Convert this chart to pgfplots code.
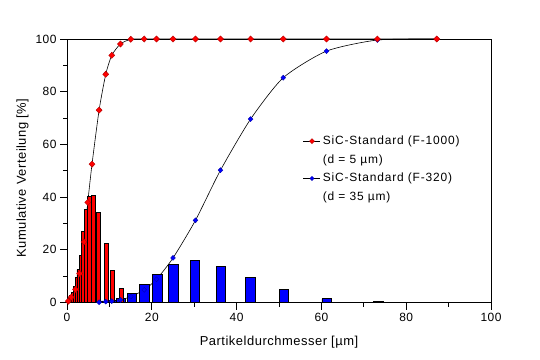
\documentclass[border=0pt]{standalone}
\usepackage{pgfplots}
\pgfplotsset{compat=1.18}
\usepackage{fontspec}
\setmainfont{Liberation Sans}[LetterSpace=4]
\newfontfamily\legfont{Liberation Sans}[LetterSpace=7]
\begin{document}
\begin{tikzpicture}
\begin{axis}[
  scale only axis, width=424bp, height=263.5bp,
  xmin=0, xmax=100, ymin=0, ymax=100,
  xtick={0,20,...,100}, ytick={0,20,...,100},
  minor x tick num=1, minor y tick num=1,
  tick align=outside, xtick pos=bottom, ytick pos=left,
  major tick length=7bp, minor tick length=4bp,
  axis line style={line width=0.8bp},
  every tick/.style={black, line width=0.8bp},
  tick label style={font=\fontsize{12}{14}\selectfont},
  /pgf/number format/assume math mode=true,
  xlabel={Partikeldurchmesser [µm]},
  ylabel={Kumulative Verteilung [\%]},
  label style={font=\fontsize{13}{15}\selectfont},
  xlabel style={at={(axis description cs:0.5,-0.15)}, anchor=center},
  ylabel style={at={(axis description cs:-0.105,0.472)}, anchor=center},
  legend style={draw=none, fill=none, at={(axis description cs:0.5566,0.64)}, anchor=north west,
    font=\legfont\fontsize{12}{14}\selectfont, row sep=4.5bp, inner sep=0pt, cells={anchor=west}},
  legend image code/.code={\draw[mark repeat=2,mark phase=2] plot coordinates {(0bp,0bp)(8.5bp,0bp)(17bp,0bp)};},
]
\addlegendimage{black, line width=0.6bp, mark=diamond*, mark size=2.6,
  mark options={fill=red, draw=red!70!black, line width=0.4bp, solid, xscale=1.3}}
\addlegendentry{SiC-Standard (F-1000)}
\addlegendimage{empty legend}
\addlegendentry{(d = 5 µm)}
\addlegendimage{black, line width=0.6bp, mark=diamond*, mark size=2.1,
  mark options={fill=blue, draw=blue!70!black, line width=0.4bp, solid, xscale=1.3}}
\addlegendentry{SiC-Standard (F-320)}
\addlegendimage{empty legend}
\addlegendentry{(d = 35 µm)}
% cumulative curve F-320
\addplot[black, line width=0.6bp, smooth, tension=0.4, mark=diamond*, mark size=2.5,
  mark options={fill=blue, draw=blue!70!black, line width=0.4bp, solid, xscale=1.3}, forget plot] coordinates {
  (7.57,0.1) (9.14,0.3) (10.56,0.5) (12.6,1.0) (15.05,2.2) (18.2,4.8) (21.1,8.8)
  (25,16.9) (30.3,31.2) (36.2,50.2) (43.3,69.6) (51,85.3) (61.2,95.4) (73.2,99.6) (87.2,100)};
% cumulative curve F-1000
\addplot[black, line width=0.6bp, smooth, tension=0.4, mark=diamond*, mark size=3.1,
  mark options={fill=red, draw=red!70!black, line width=0.4bp, solid, xscale=1.3}, forget plot] coordinates {
  (0.3,0.5) (1.0,2) (2.0,5) (3.0,11) (4.0,23) (4.9,38) (5.9,52.5) (7.57,73) (9.14,86.6)
  (10.56,93.8) (12.6,98.1) (15.05,99.9) (18.2,100) (21.1,100) (25,100) (30.3,100)
  (36.2,100) (43.3,100) (51,100) (61.2,100) (73.2,100) (87.2,100)};
% blue distribution bars
\addplot[ybar, bar width=2.25, bar shift=0pt, fill=blue, draw=black, line width=0.8bp, forget plot] coordinates {
  (3.7,0.3) (5.9,0.4) (7.57,0.5) (9.14,0.6) (10.56,0.8) (12.75,1.4) (15.3,3.3) (18.3,6.7) (21.35,10.6)
  (25.1,14.3) (30.2,15.8) (36.3,13.7) (43.25,9.4) (51.15,4.8) (61.25,1.4) (73.4,0.3)};
% red distribution bars
\addplot[ybar, bar width=0.5, bar shift=0pt, fill=red, draw=black, line width=0.8bp, forget plot] coordinates {
  (0.3,1.5) (0.7,2.7) (1.2,3.9) (1.7,6.0) (2.15,9.5) (2.6,12.5) (3.1,17.9)};
\addplot[ybar, bar width=0.7, bar shift=0pt, fill=red, draw=black, line width=0.8bp, forget plot] coordinates {
  (3.7,26.8) (4.45,35.2)};
\addplot[ybar, bar width=0.95, bar shift=0pt, fill=red, draw=black, line width=0.8bp, forget plot] coordinates {
  (5.3,40.3) (6.2,40.7) (7.4,34.1) (9.3,22.3) (10.7,12.0) (12.8,5.2)};
\end{axis}
\pgfresetboundingbox
\path[use as bounding box] (-67bp,-57.5bp) rectangle (473bp,302.5bp);
\end{tikzpicture}
\end{document}
